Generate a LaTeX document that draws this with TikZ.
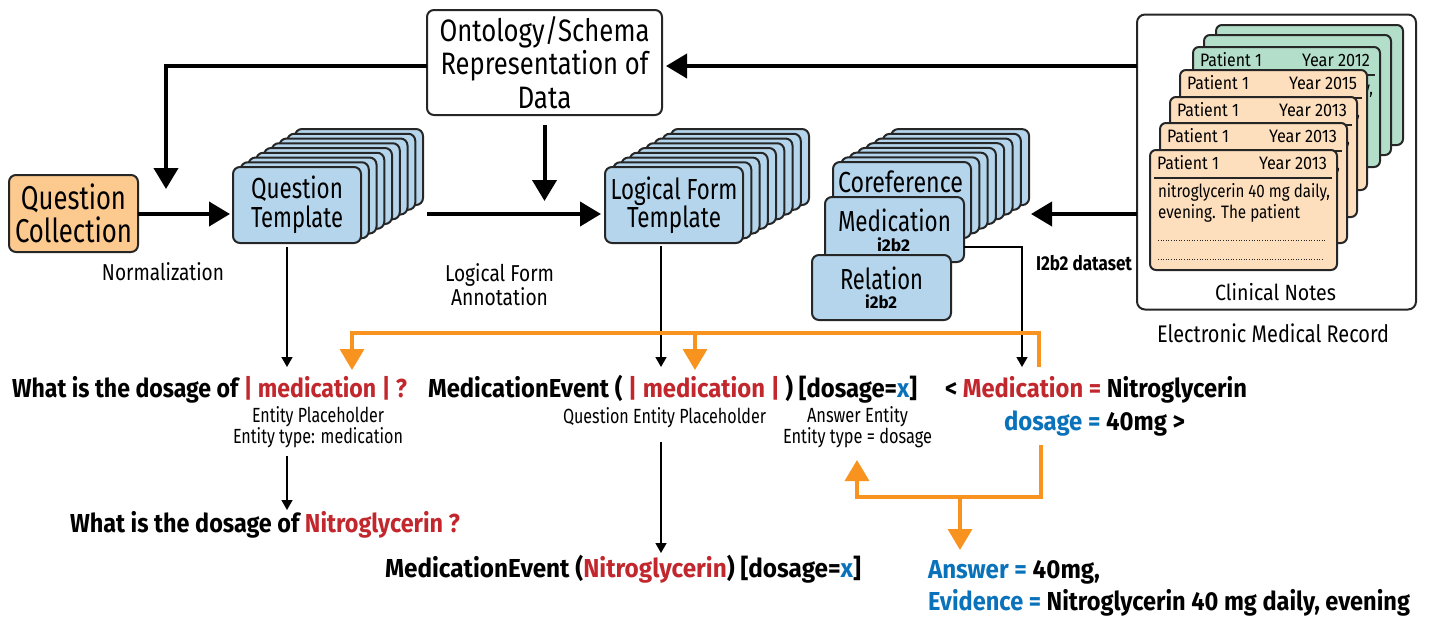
\documentclass[tikz,border=0pt]{standalone}
\usepackage{fontspec}
\setmainfont{Fira Sans}
\usetikzlibrary{arrows.meta,calc}
\definecolor{boxline}{HTML}{262626}
\definecolor{boxblue}{HTML}{B4D5EC}
\definecolor{qcorange}{HTML}{FCC98F}
\definecolor{cardorange}{HTML}{FDDFBE}
\definecolor{cardgreen}{HTML}{B3DEC9}
\definecolor{medred}{HTML}{C1272D}
\definecolor{dosblue}{HTML}{0A72BA}
\definecolor{arrorange}{HTML}{F7931E}
% fit a one-line text to a width (in px = pt), keeping its height
\newcommand\fw[2]{\resizebox{#1pt}{\height}{#2}}
\newcommand\fsz[2]{\fontsize{#1}{#2}\selectfont}
\newcommand\plaincard[3]{\draw[cardst, fill=#3] (#1,#2) rectangle ++(187,120);}
\newcommand\clincard[5]{%
  \draw[cardst, fill=#3] (#1,#2) rectangle ++(187,120);
  \node[cardtxt, anchor=west] (#5p) at (#1+7,#2+13) {\fw{62}{Patient 1}};
  \node[cardtxt, anchor=east] (#5y) at (#1+177,#2+13) {\fw{68}{Year #4}};
  \draw[line width=1.5pt, boxline] (#1+4,#2+28) -- (#1+182,#2+28);
  \node[cardtxt, anchor=west] (#5b) at (#1+8,#2+42) {\fw{172}{nitroglycerin 40 mg daily,}};
  \node[cardtxt, anchor=west] (#5c) at (#1+8,#2+63) {\fw{142}{evening. The patient}};
  \draw[line width=0.9pt, boxline, dash pattern=on 0.9pt off 1.7pt] (#1+8,#2+90) -- (#1+176,#2+90);
  \draw[line width=0.9pt, boxline, dash pattern=on 0.9pt off 1.7pt] (#1+8,#2+109) -- (#1+172,#2+109);
}
\begin{document}
\begin{tikzpicture}[x=1pt,y=-1pt,
  every node/.style={inner sep=0pt, outer sep=0pt},
  box/.style={draw=boxline, line width=2pt, rounded corners=7pt, align=center},
  stackst/.style={draw=boxline, line width=2pt, rounded corners=7pt, fill=boxblue},
  cardst/.style={draw=boxline, line width=2pt, rounded corners=6pt},
  cardtxt/.style={font=\fsz{18}{21}, text=black},
  bigarr/.style={line width=4pt, -{Triangle[width=24pt,length=21pt]}},
  thinarr/.style={line width=1.6pt, -{Triangle[width=11pt,length=10pt]}},
  orarr/.style={draw=arrorange, line width=3.5pt, -{Triangle[width=24pt,length=21pt]}},
  maintxt/.style={font=\fsz{26}{32}\bfseries, anchor=base west},
  lbl/.style={font=\fsz{20.5}{21}, align=center}
]
\useasboundingbox (0,0) rectangle (1431,624);

% ---------- top boxes ----------
\node[box, fill=white, minimum width=235pt, minimum height=105pt, font=\fsz{31}{33.5}] (onto) at (544.5,62.5)
  {\fw{210}{Ontology/Schema}\\\fw{208}{Representation of}\\\fw{54}{Data}};
\node[box, fill=qcorange, minimum width=129pt, minimum height=77pt, font=\fsz{33}{33}] (qc) at (73.5,213.5)
  {\fw{105}{Question}\\\fw{117}{Collection}};

% Question template stack
\foreach \i in {8,7,...,1} \draw[stackst] (233+\i*7.75,167-\i*4.75) rectangle ++(128,76);
\node[box, fill=boxblue, minimum width=128pt, minimum height=76pt, font=\fsz{29}{29}] (qt) at (297,205)
  {\fw{92}{Question}\\\fw{92}{Template}};

% Logical form template stack
\foreach \i in {8,7,...,1} \draw[stackst] (605+\i*8.25,167-\i*4.75) rectangle ++(138,76);
\node[box, fill=boxblue, minimum width=138pt, minimum height=76pt, font=\fsz{29}{28}] (lft) at (674,205)
  {\fw{127}{Logical Form}\\\fw{94}{Template}};

% Coreference / Medication / Relation
\foreach \i in {7,6,...,1} \draw[stackst] (833+\i*8.3,162-\i*4.7) rectangle ++(138,76);
\node[box, fill=boxblue, minimum width=138pt, minimum height=76pt] (corf) at (902,200) {};
\node[font=\fsz{29}{30}] (corft) at (900.5,182) {\fw{125}{Coreference}};
\node[box, fill=boxblue, minimum width=139pt, minimum height=65pt] (med) at (894.5,229.5) {};
\node[font=\fsz{29}{30}] (medt) at (894.5,220) {\fw{113}{Medication}};
\node[font=\fsz{17}{18}\bfseries] (medi) at (893.5,245) {\fw{33}{i2b2}};
\node[box, fill=boxblue, minimum width=139pt, minimum height=65pt] (rel) at (881.5,287.5) {};
\node[font=\fsz{29}{30}] (relt) at (881.5,278) {\fw{83}{Relation}};
\node[font=\fsz{17}{18}\bfseries] (reli) at (881,302) {\fw{32}{i2b2}};

% EMR with clinical notes
\node[draw=boxline, line width=2pt, rounded corners=8pt, fill=white, minimum width=279pt, minimum height=295pt] (emr) at (1276.5,162) {};
\plaincard{1216}{25}{cardgreen}
\plaincard{1204}{35}{cardgreen}
\clincard{1193}{47}{cardgreen}{2012}{gc}
\clincard{1180}{70}{cardorange}{2015}{oa}
\clincard{1170}{97}{cardorange}{2013}{ob}
\clincard{1160}{123}{cardorange}{2013}{oc}
\clincard{1150}{150}{cardorange}{2013}{od}
\node[font=\fsz{22}{24}] (cn) at (1275.5,292) {\fw{121}{Clinical Notes}};
\node[font=\fsz{24}{26}] (emrl) at (1273,333) {\fw{232}{Electronic Medical Record}};

% ---------- labels ----------
\node[font=\fsz{23}{24}] (norm) at (163,272) {\fw{122}{Normalization}};
\node[font=\fsz{23}{24}, align=center] (lfa) at (499.5,285) {\fw{109}{Logical Form}\\\fw{97}{Annotation}};
\node[font=\fsz{20}{22}\bfseries] (ids) at (1084,263) {\fw{96}{I2b2 dataset}};

% ---------- black arrows ----------
\coordinate (qdn) at (166,189);
\draw[bigarr] ([yshift=-3.5pt]onto.west) -| (qdn);
\coordinate (ontoR) at ([yshift=-3.5pt]onto.east);
\draw[bigarr] (emr.west |- ontoR) -- ([xshift=4pt]ontoR);
\coordinate (odn) at (544.5,201);
\draw[bigarr] ($(onto.south)+(0,10)$) -- (odn);
\coordinate (qtin) at (230,214);
\draw[bigarr] (qc.east |- qtin) -- (qtin);
\coordinate (lfin) at (601,214);
\draw[bigarr] ($(qt.east |- lfin)+(66,0)$) -- (lfin);
\coordinate (corin) at (1031,214);
\draw[bigarr] (emr.west |- corin) -- (corin);

% ---------- bottom texts ----------
\node[maintxt] (q1) at (12,397) {\fw{395}{What is the dosage of \textcolor{medred}{| medication | ?}}};
\node[lbl] (ent1) at (318,427.5) {\fw{132}{Entity Placeholder}\\\fw{170}{Entity type: medication}};
\node[maintxt] (q2) at (70,532) {\fw{390}{What is the dosage of \textcolor{medred}{Nitroglycerin ?}}};
\node[maintxt] (lf1) at (428,397) {\fw{489}{MedicationEvent ( \textcolor{medred}{| medication |} ) [dosage=\textcolor{dosblue}{x}]}};
\node[lbl] (qep) at (664.5,418) {\fw{203}{Question Entity Placeholder}};
\node[lbl] (ae) at (857.5,427.5) {\fw{101}{Answer Entity}\\\fw{149}{Entity type = dosage}};
\node[maintxt] (lf2) at (385,577) {\fw{476}{MedicationEvent (\textcolor{medred}{Nitroglycerin}) [dosage=\textcolor{dosblue}{x}]}};
\node[maintxt] (mv) at (945,397) {\fw{302}{< \textcolor{medred}{Medication =} Nitroglycerin}};
\node[maintxt] (dv) at (1004,430) {\fw{181}{\textcolor{dosblue}{dosage =} 40mg >}};
\node[maintxt] (ans) at (928,578) {\fw{172}{\textcolor{dosblue}{Answer =} 40mg,}};
\node[maintxt] (evd) at (928,610) {\fw{482}{\textcolor{dosblue}{Evidence =} Nitroglycerin 40 mg daily, evening}};

% ---------- thin arrows ----------
\coordinate (q1tip) at (287,367);
\draw[thinarr] ($(qt.south -| q1tip)+(0,4)$) -- (q1tip);
\coordinate (q2tip) at (287,510);
\draw[thinarr] ($(ent1.south -| q2tip)+(0,8)$) -- (q2tip);
\coordinate (lftip) at (661,367);
\draw[thinarr] ($(lft.south -| lftip)+(0,3)$) -- (lftip);
\coordinate (lf2tip) at (661,553);
\draw[thinarr] ($(qep.south -| lf2tip)+(0,14)$) -- (lf2tip);
\coordinate (mtip) at (1022,367);
\draw[thinarr] ($(med.east)+(0,17.5)$) -| (mtip);

% ---------- orange arrows ----------
\coordinate (oa) at (1039,367);
\coordinate (ob) at (352,333);
\coordinate (oc) at (352,370);
\draw[orarr] (oa) |- (ob) -- (oc);
\coordinate (od) at (695,333);
\coordinate (oe) at (695,370);
\draw[orarr] (od) -- (oe);
\coordinate (pa) at (1041,445);
\coordinate (pb) at (1041,497);
\coordinate (pc) at (857,460);
\draw[orarr] (pa) -- (pb) -| (pc);
\coordinate (pd) at (960,497);
\coordinate (pe) at (960,550);
\draw[orarr] (pd) -- (pe);
\end{tikzpicture}
\end{document}
